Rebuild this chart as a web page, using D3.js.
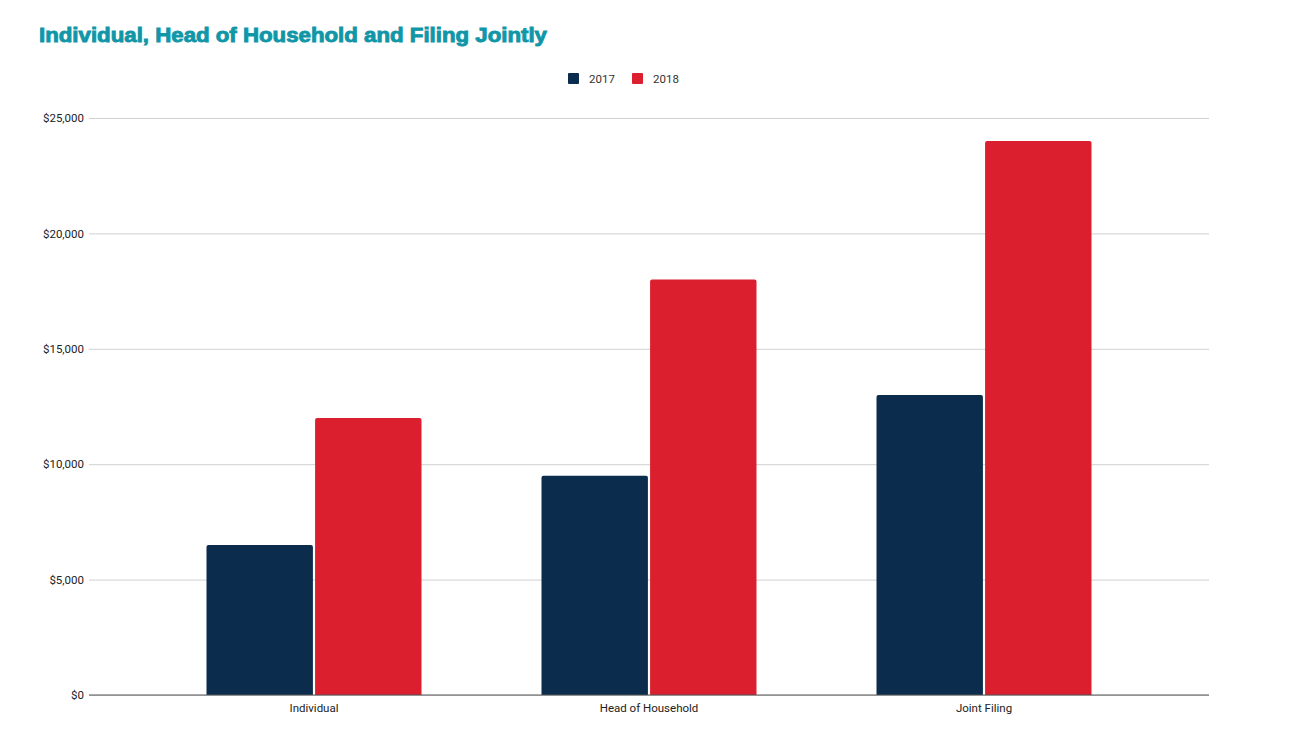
<!DOCTYPE html>
<html><head><meta charset="utf-8">
<script src="https://cdn.jsdelivr.net/npm/d3@7/dist/d3.min.js"></script>
<style>body{margin:0;background:#fff;}svg{display:block;font-family:"Liberation Sans",Arial,sans-serif;}</style>
</head><body><svg id="c" width="1294" height="752"></svg>
<script>
const categories = ["Individual", "Head of Household", "Joint Filing"];
const seriesNames = ["2017", "2018"];
const values2017 = [6500, 9500, 13000];
const values2018 = [12000, 18000, 24000];
const yTicks = [0, 5000, 10000, 15000, 20000, 25000];
const colors = ["#0b2c4d", "#dc1f2f"];

const svg = d3.select("#c");
const plotL = 89, plotR = 1209, plotT = 118, plotB = 695;

const y = d3.scaleLinear().domain([0, 25000]).range([plotB, plotT]);
const x = d3.scaleBand().domain(categories).range([146.5, 1151.5]).padding(0);
const inner = d3.scaleBand().domain(seriesNames).range([0, 215]).paddingInner(0.02);

svg.append("text").attr("x", 39).attr("y", 42).attr("fill", "#1196a8")
  .attr("stroke", "#1196a8").attr("stroke-width", 0.9)
  .attr("font-size", 20).attr("font-weight", "bold")
  .attr("font-family", "'Liberation Sans', Arial, sans-serif")
  .attr("textLength", 508).attr("lengthAdjust","spacingAndGlyphs")
  .text("Individual, Head of Household and Filing Jointly");

// grid
const yAxis = d3.axisLeft(y).tickValues(yTicks).tickSize(-(plotR - plotL)).tickPadding(6)
  .tickFormat(d => "$" + d3.format(",")(d));
const ga = svg.append("g").attr("transform", `translate(${plotL},0)`).call(yAxis);
ga.select(".domain").remove();
ga.selectAll(".tick line").attr("stroke", "#d0d0d0");
ga.selectAll(".tick text").attr("fill", "#222").attr("font-size", 11.5).attr("x", -5)
  .attr("font-family", "Roboto, 'Liberation Sans', sans-serif");

const data = categories.map((c, i) => ({cat: c, vals: [values2017[i], values2018[i]]}));
const groups = svg.append("g").selectAll("g").data(data).join("g")
  .attr("transform", d => `translate(${x(d.cat) + (x.bandwidth() - 215) / 2},0)`);
groups.selectAll("path").data(d => d.vals.map((v, j) => ({s: seriesNames[j], v, j}))).join("path")
  .attr("fill", d => colors[d.j])
  .attr("d", d => {
    const x0 = inner(d.s), w = inner.bandwidth(), y0 = y(d.v), y1 = y(0), r = 2;
    return `M${x0},${y1}V${y0 + r}Q${x0},${y0} ${x0 + r},${y0}H${x0 + w - r}Q${x0 + w},${y0} ${x0 + w},${y0 + r}V${y1}Z`;
  });

// baseline
svg.append("line").attr("x1", plotL).attr("x2", plotR).attr("y1", plotB).attr("y2", plotB)
  .attr("stroke", "#555").attr("stroke-width", 1);

// x labels
const xAxis = d3.axisBottom(x).tickSize(0).tickPadding(9);
const gx = svg.append("g").attr("transform", `translate(0,${plotB})`).call(xAxis);
gx.select(".domain").remove();
gx.selectAll(".tick text").attr("fill", "#222").attr("font-size", 11.5)
  .attr("font-family", "Roboto, 'Liberation Sans', sans-serif");

// legend
const leg = svg.append("g");
const legX = [568, 632];
seriesNames.forEach((s, i) => {
  leg.append("rect").attr("x", legX[i]).attr("y", 73).attr("width", 11).attr("height", 11)
    .attr("rx", 1).attr("fill", colors[i]);
  leg.append("text").attr("x", legX[i] + 21).attr("y", 82.5).attr("font-size", 11.5)
    .attr("font-family", "Roboto, 'Liberation Sans', sans-serif")
    .attr("fill", "#333").text(s);
});
</script></body></html>
